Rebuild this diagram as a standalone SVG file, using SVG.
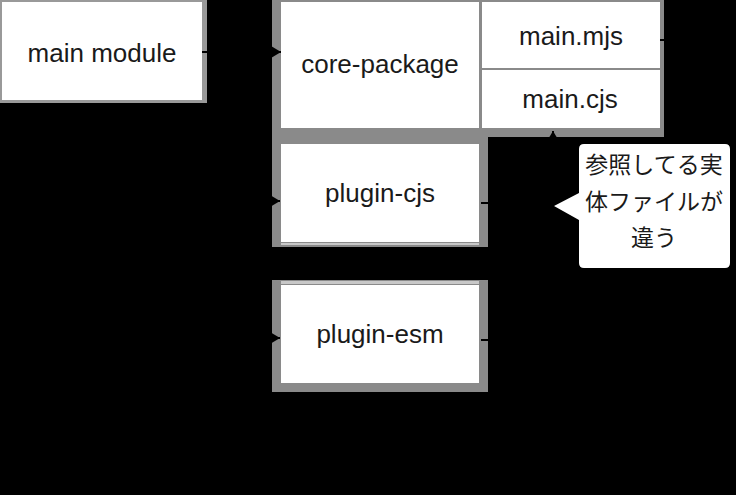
<svg xmlns="http://www.w3.org/2000/svg" width="736" height="495" viewBox="0 0 736 495">
  <style>
    .lbl { font-family: "Liberation Sans", Arial, sans-serif; font-size: 26px; fill: #1a1a1a; text-anchor: middle; }
    .jp { font-family: "Noto Sans CJK JP", "Noto Sans CJK SC", sans-serif; font-size: 23px; fill: #1a1a1a; text-anchor: middle; }
    .frame { fill: #8a8a8a; }
    .cell { fill: #ffffff; }
    .edge { fill: none; stroke: #000; stroke-width: 2; }
  </style>
  <defs>
    <marker id="arr" markerUnits="userSpaceOnUse" markerWidth="10" markerHeight="12" refX="10" refY="6" orient="auto">
      <path d="M0,0 L10,6 L0,12 z" fill="#000"/>
    </marker>
  </defs>
  <rect x="0" y="0" width="736" height="495" fill="#000"/>

  <g id="main-module">
    <rect x="0" y="0" width="207" height="103" fill="#999"/>
    <rect x="2" y="2" width="200" height="98" class="cell"/>
    <text x="102" y="62" class="lbl">main module</text>
  </g>

  <g id="core-package">
    <rect x="272" y="0" width="392" height="137" class="frame"/>
    <rect x="281" y="2" width="198" height="126" class="cell"/>
    <text x="380" y="73" class="lbl">core-package</text>
    <g id="main-mjs">
      <rect x="482" y="2" width="178" height="66" class="cell"/>
      <text x="571" y="45" class="lbl">main.mjs</text>
    </g>
    <g id="main-cjs">
      <rect x="482" y="70" width="178" height="58" class="cell"/>
      <text x="570" y="108" class="lbl">main.cjs</text>
    </g>
  </g>

  <g id="plugin-cjs">
    <rect x="272" y="137" width="216" height="110" class="frame"/>
    <rect x="281" y="144" width="198" height="98" class="cell"/>
    <rect x="281" y="243" width="198" height="2" fill="#c8c8c8"/>
    <text x="380" y="202" class="lbl">plugin-cjs</text>
  </g>

  <g id="plugin-esm">
    <rect x="272" y="280" width="216" height="112" class="frame"/>
    <rect x="281" y="281" width="198" height="3" fill="#c8c8c8"/>
    <rect x="281" y="285" width="198" height="98" class="cell"/>
    <text x="380" y="343" class="lbl">plugin-esm</text>
  </g>

  <g id="connectors">
    <path class="edge" d="M202,52 H281" marker-end="url(#arr)"/>
    <path class="edge" d="M240,52 V201 H280" marker-end="url(#arr)"/>
    <path class="edge" d="M240,201 V338 H280" marker-end="url(#arr)"/>
    <path class="edge" d="M481,203 H553 V131" marker-end="url(#arr)"/>
    <path class="edge" d="M481,340 H553 V203"/>
    <path class="edge" d="M660,40 H700"/>
  </g>

  <g id="callout">
    <path d="M584,144 H725 Q730,144 730,149 V263 Q730,268 725,268 H584 Q579,268 579,263 V220 L554,206 L579,193 V149 Q579,144 584,144 z" fill="#fff"/>
    <text x="654" y="173" class="jp">参照してる実</text>
    <text x="654" y="210" class="jp">体ファイルが</text>
    <text x="654" y="246" class="jp">違う</text>
  </g>
</svg>
